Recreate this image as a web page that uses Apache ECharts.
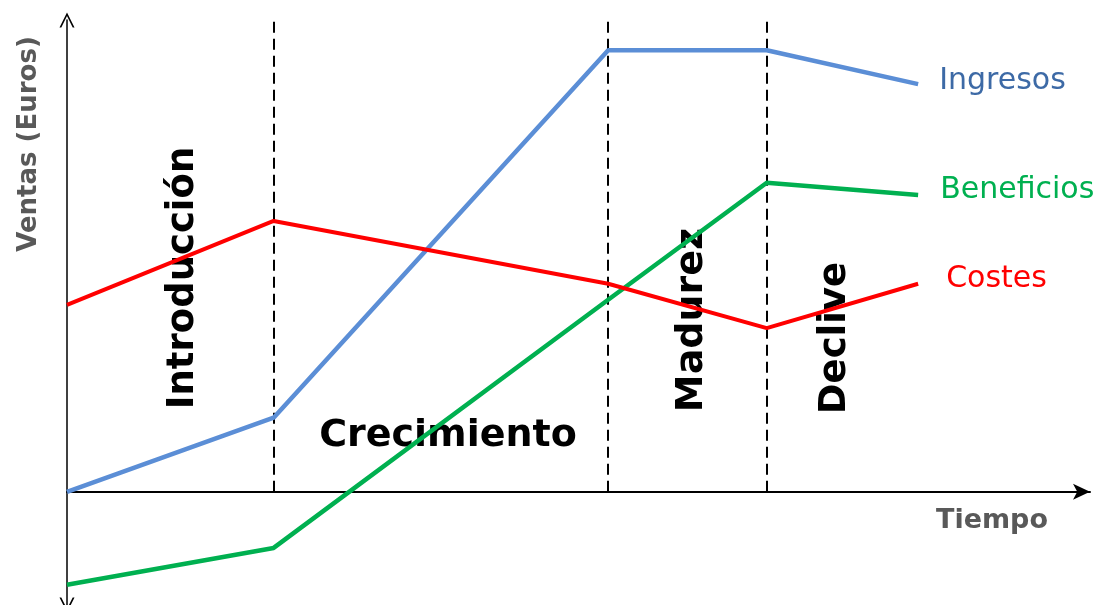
<!DOCTYPE html>
<html>
<head>
<meta charset="utf-8">
<script src="https://cdn.jsdelivr.net/npm/echarts@6/dist/echarts.min.js"></script>
<style>
  html, body { margin: 0; padding: 0; background: #fff; }
  #chart { width: 1105px; height: 605px; }
</style>
</head>
<body>
<div id="chart"></div>
<script>
// ciclo de vida del producto
var tiempo = [0, 20.2, 52.9, 68.4, 83.2];
var ingresos = [0, 15.7, 93.6, 93.6, 86.4];
var beneficios = [-19.7, -11.9, 40.7, 65.5, 62.9];
var costes = [39.6, 57.4, 44.1, 34.7, 44.1];
var limitesFases = [20.2, 52.9, 68.4];

function pares(ys) {
    var out = [];
    for (var i = 0; i < tiempo.length; i++) {
        out.push([tiempo[i], ys[i]]);
    }
    return out;
}

var lineasFase = [];
for (var i = 0; i < limitesFases.length; i++) {
    lineasFase.push([{coord: [limitesFases[i], 0]}, {coord: [limitesFases[i], 100]}]);
}

var fuente = '"DejaVu Sans"';
var chevron = 'path://M0,10 L5,0 L10,10 L8.8,10 L5,2.4 L1.2,10 Z';

var myChart = echarts.init(document.getElementById('chart'));
var option = {
    backgroundColor: '#fff',
    animation: false,
    grid: { left: 67, right: 15, top: 20, height: 585 },
    xAxis: {
        type: 'value', min: 0, max: 100,
        axisLine: { onZero: true, symbol: ['none', 'arrow'], symbolSize: [12, 17], lineStyle: { color: '#000', width: 2 } },
        axisTick: { show: false }, axisLabel: { show: false }, splitLine: { show: false }
    },
    yAxis: {
        type: 'value', min: -24, max: 100,
        axisLine: { show: true, onZero: false, symbol: [chevron, chevron], symbolSize: [15, 16], lineStyle: { color: '#000', width: 1.5 } },
        axisTick: { show: false }, axisLabel: { show: false }, splitLine: { show: false }
    },
    graphic: [
        { type: 'text', x: 29, y: 144, rotation: Math.PI / 2, z: 1,
          style: { text: 'Ventas (Euros)', fill: '#595959', font: 'bold 26px ' + fuente, align: 'center', verticalAlign: 'middle' } },
        { type: 'text', x: 992, y: 521, z: 1,
          style: { text: 'Tiempo', fill: '#595959', font: 'bold 27px ' + fuente, align: 'center', verticalAlign: 'middle' } },
        { type: 'text', x: 183, y: 278, rotation: Math.PI / 2, z: 1,
          style: { text: 'Introducción', fill: '#000', font: 'bold 37px ' + fuente, align: 'center', verticalAlign: 'middle' } },
        { type: 'text', x: 448, y: 436, z: 1,
          style: { text: 'Crecimiento', fill: '#000', font: 'bold 38px ' + fuente, align: 'center', verticalAlign: 'middle' } },
        { type: 'text', x: 692, y: 320, rotation: Math.PI / 2, z: 1,
          style: { text: 'Madurez', fill: '#000', font: 'bold 38px ' + fuente, align: 'center', verticalAlign: 'middle' } },
        { type: 'text', x: 835, y: 338, rotation: Math.PI / 2, z: 1,
          style: { text: 'Declive', fill: '#000', font: 'bold 37px ' + fuente, align: 'center', verticalAlign: 'middle' } }
    ],
    series: [
        {
            name: 'Ingresos', type: 'line', data: pares(ingresos), symbol: 'none', z: 5,
            lineStyle: { color: '#5b8ed6', width: 4.5 },
            endLabel: { show: true, formatter: '{a}', color: '#3d6aa6', fontSize: 30, fontFamily: fuente, offset: [13, -3] },
            markLine: {
                silent: true, symbol: ['none', 'none'], label: { show: false },
                lineStyle: { color: '#000', width: 2, type: [11, 6] },
                data: lineasFase
            }
        },
        {
            name: 'Beneficios', type: 'line', data: pares(beneficios), symbol: 'none', z: 5,
            lineStyle: { color: '#00b050', width: 4.5 },
            endLabel: { show: true, formatter: '{a}', color: '#00b050', fontSize: 30, fontFamily: fuente, offset: [14, -5] }
        },
        {
            name: 'Costes', type: 'line', data: pares(costes), symbol: 'none', z: 5,
            lineStyle: { color: '#ff0000', width: 4 },
            endLabel: { show: true, formatter: '{a}', color: '#ff0000', fontSize: 30, fontFamily: fuente, offset: [20, -5] }
        }
    ]
};
myChart.setOption(option);
</script>
</body>
</html>
